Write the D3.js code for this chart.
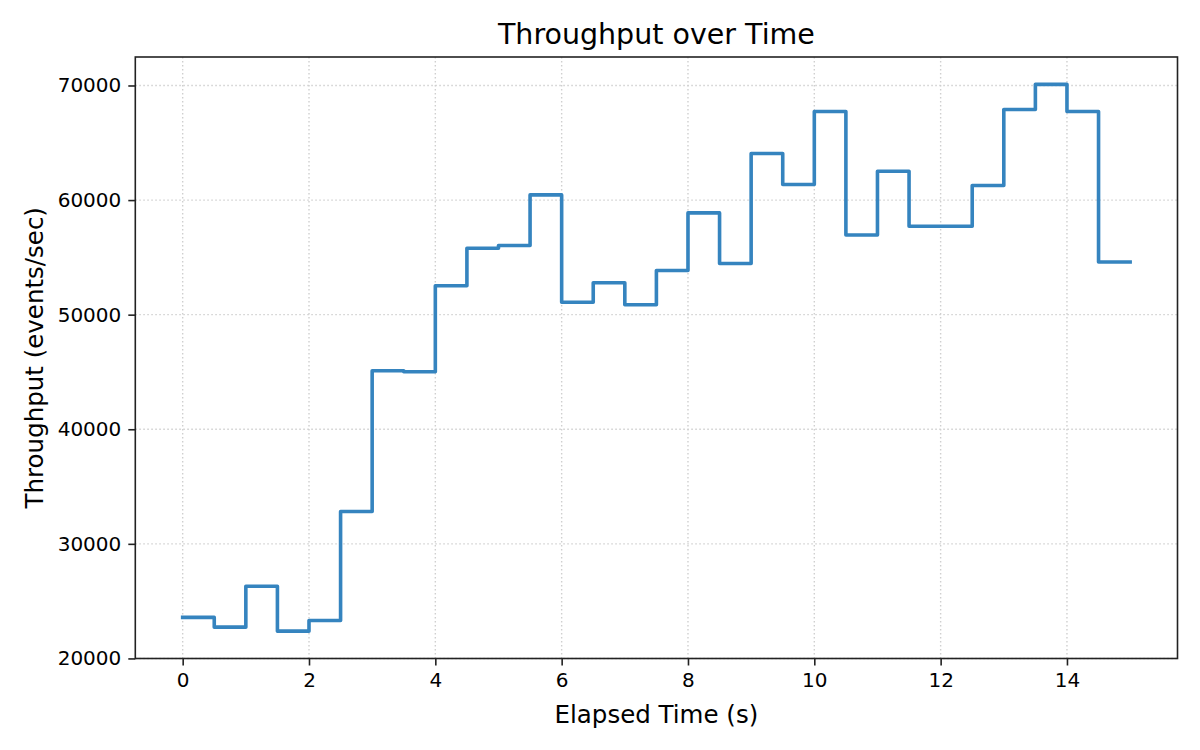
<!DOCTYPE html>
<html>
<head>
<meta charset="utf-8">
<script src="https://cdn.jsdelivr.net/npm/d3@7"></script>
<style>
  body { margin: 0; background: #fff; }
  svg { display: block; font-family: "DejaVu Sans", sans-serif; }
</style>
</head>
<body>
<svg id="chart" width="1200" height="750"></svg>
<script>
// elapsed seconds, sampled every half second
const elapsed = [0, 0.5, 1, 1.5, 2, 2.5, 3, 3.5, 4, 4.5, 5, 5.5, 6, 6.5, 7, 7.5,
  8, 8.5, 9, 9.5, 10, 10.5, 11, 11.5, 12, 12.5, 13, 13.5, 14, 14.5, 15];
// events/sec
const throughput = [23580, 22730, 26300, 22380, 23310, 32820, 45110, 45020, 52520, 55800,
  56030, 60450, 51080, 52780, 50860, 53860, 58880, 54470, 64060, 61360,
  67730, 56950, 62520, 57710, 57710, 61270, 67910, 70100, 67730, 54600, 54600];
const xTicks = [0, 2, 4, 6, 8, 10, 12, 14];
const yTicks = [20000, 30000, 40000, 50000, 60000, 70000];

const svg = d3.select('#chart');
const margin = { left: 135.3, right: 1200 - 1177.5, top: 57, bottom: 750 - 658.5 };
const W = 1200, H = 750;

// matplotlib style 5% padding around the data
function padded(vals) {
  const [lo, hi] = d3.extent(vals);
  const p = (hi - lo) * 0.05;
  return [lo - p, hi + p];
}

const x = d3.scaleLinear().domain(padded(elapsed)).range([margin.left, W - margin.right]);
const y = d3.scaleLinear().domain(padded(throughput)).range([H - margin.bottom, margin.top]);

const data = elapsed.map((t, i) => ({ t, v: throughput[i] }));

// grid
const grid = svg.append('g');
grid.selectAll('line.gx')
  .data(xTicks)
  .enter().append('line')
    .attr('x1', d => x(d)).attr('x2', d => x(d))
    .attr('y1', margin.top).attr('y2', H - margin.bottom)
    .attr('stroke', '#cfcfcf').attr('stroke-width', 1.4)
    .attr('stroke-dasharray', '1.5,2.5');
grid.selectAll('line.gy')
  .data(yTicks)
  .enter().append('line')
    .attr('x1', margin.left).attr('x2', W - margin.right)
    .attr('y1', d => y(d)).attr('y2', d => y(d))
    .attr('stroke', '#cfcfcf').attr('stroke-width', 1.4)
    .attr('stroke-dasharray', '1.5,2.5');

// step line
const line = d3.line()
  .x(d => x(d.t))
  .y(d => y(d.v))
  .curve(d3.curveStepAfter);

svg.append('path')
  .datum(data)
  .attr('d', line)
  .attr('fill', 'none')
  .attr('stroke', '#3584bf')
  .attr('stroke-width', 3.6)
  .attr('stroke-linejoin', 'round')
  .attr('stroke-linecap', 'square');

// axes
const xAxis = svg.append('g')
  .attr('transform', `translate(0,${H - margin.bottom})`)
  .call(d3.axisBottom(x).tickValues(xTicks).tickSize(7).tickPadding(7).tickFormat(d3.format('d')));
const yAxis = svg.append('g')
  .attr('transform', `translate(${margin.left},0)`)
  .call(d3.axisLeft(y).tickValues(yTicks).tickSize(7).tickPadding(7).tickFormat(d3.format('d')));

[xAxis, yAxis].forEach(a => {
  a.select('.domain').remove();
  a.selectAll('.tick line').attr('stroke', '#222').attr('stroke-width', 1.6);
  a.selectAll('.tick text')
    .attr('fill', '#000')
    .attr('font-size', '20px')
    .attr('font-family', '"DejaVu Sans", sans-serif');
});

// spines
svg.append('rect')
  .attr('x', margin.left).attr('y', margin.top)
  .attr('width', W - margin.left - margin.right)
  .attr('height', H - margin.top - margin.bottom)
  .attr('fill', 'none')
  .attr('stroke', '#222')
  .attr('stroke-width', 1.6);

// title and labels
svg.append('text')
  .attr('x', (margin.left + W - margin.right) / 2)
  .attr('y', 44)
  .attr('text-anchor', 'middle')
  .attr('font-size', '28.5px')
  .text('Throughput over Time');

svg.append('text')
  .attr('x', (margin.left + W - margin.right) / 2)
  .attr('y', 723)
  .attr('text-anchor', 'middle')
  .attr('font-size', '24.5px')
  .text('Elapsed Time (s)');

svg.append('text')
  .attr('transform', `translate(43,${(margin.top + H - margin.bottom) / 2}) rotate(-90)`)
  .attr('text-anchor', 'middle')
  .attr('font-size', '24.5px')
  .text('Throughput (events/sec)');
</script>
</body>
</html>
